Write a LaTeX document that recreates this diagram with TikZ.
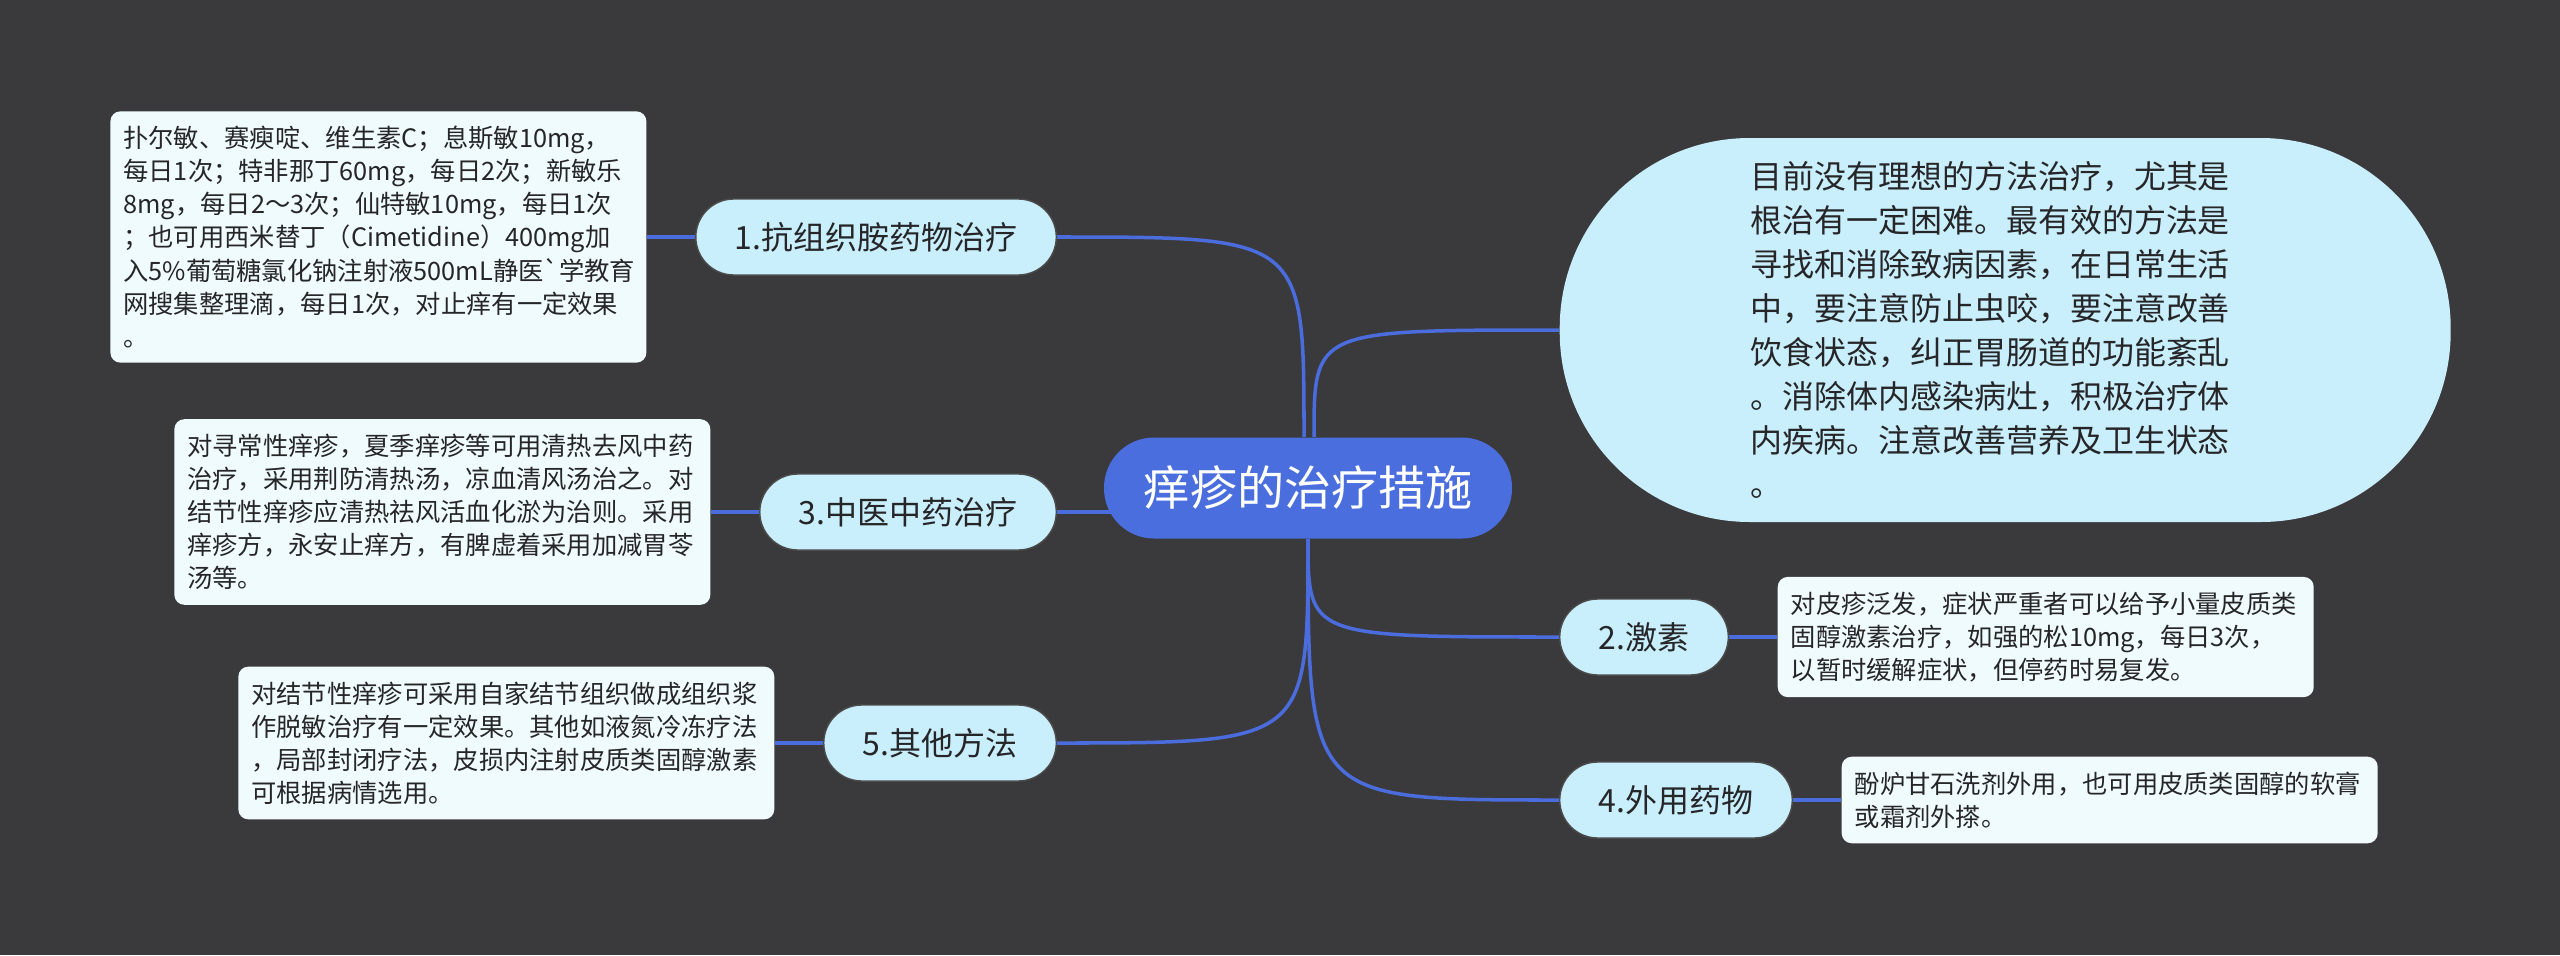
\documentclass[tikz,border=0pt]{standalone}
\usepackage{fontspec}
\setmainfont{Noto Sans CJK SC}
\usetikzlibrary{positioning}
\definecolor{bgcol}{RGB}{58,57,59}
\definecolor{linkcol}{RGB}{74,108,220}
\definecolor{rootcol}{RGB}{74,110,222}
\definecolor{branchcol}{RGB}{201,238,252}
\definecolor{leafcol}{RGB}{240,251,253}
\definecolor{inkcol}{RGB}{38,38,40}
\pgfdeclarelayer{links}
\pgfsetlayers{links,main}
\tikzset{
  root/.style={fill=rootcol, text=white, rounded corners=0.5cm, minimum width=4.08cm,
    minimum height=1.01cm, font=\fontsize{13.4pt}{15pt}\selectfont},
  branch/.style={fill=branchcol, draw=black!70, line width=0.4pt, text=inkcol,
    rounded corners=0.38cm, minimum height=0.76cm, inner xsep=0.39cm,
    font=\fontsize{9.1pt}{11pt}\selectfont},
  leaf/.style={fill=leafcol, text=inkcol, rounded corners=0.1cm, text width=5.1cm,
    align=left, inner xsep=0.13cm, inner ysep=0.15cm,
    font=\fontsize{7.2pt}{9.4pt}\selectfont},
  link/.style={draw=linkcol, line width=1pt},
}
\begin{document}
\begin{tikzpicture}
  \node[root] (ctr) at (13.08,-4.88) {痒疹的治疗措施};

  \node[branch, anchor=east] (b1) at (10.57,-2.37) {1.抗组织胺药物治疗};
  \node[branch, anchor=east] (b3) at (10.57,-5.12) {3.中医中药治疗};
  \node[branch, anchor=east] (b5) at (10.57,-7.43) {5.其他方法};
  \node[branch, anchor=west] (b2) at (15.59,-6.37) {2.激素};
  \node[branch, anchor=west] (b4) at (15.59,-8.00) {4.外用药物};

  \node[fill=branchcol, text=inkcol, rounded corners=1.9cm, anchor=west,
    minimum width=8.91cm, minimum height=3.84cm, text width=5.1cm, align=left,
    font=\fontsize{9.1pt}{12.5pt}\selectfont] (summary) at (15.59,-3.30)
    {目前没有理想的方法治疗，尤其是\\根治有一定困难。最有效的方法是\\寻找和消除致病因素，在日常生活\\中，要注意防止虫咬，要注意改善\\饮食状态，纠正胃肠道的功能紊乱\\。消除体内感染病灶，积极治疗体\\内疾病。注意改善营养及卫生状态\\。};

  \node[leaf, left=0.48cm of b1] (l1)
    {扑尔敏、赛瘐啶、维生素C；息斯敏10mg，\\每日1次；特非那丁60mg，每日2次；新敏乐\\8mg，每日2～3次；仙特敏10mg，每日1次\\；也可用西米替丁（Cimetidine）400mg加\\入5\%葡萄糖氯化钠注射液500mL静医\textasciigrave 学教育\\网搜集整理滴，每日1次，对止痒有一定效果\\。};
  \node[leaf, left=0.48cm of b3] (l3)
    {对寻常性痒疹，夏季痒疹等可用清热去风中药\\治疗，采用荆防清热汤，凉血清风汤治之。对\\结节性痒疹应清热祛风活血化淤为治则。采用\\痒疹方，永安止痒方，有脾虚着采用加减胃苓\\汤等。};
  \node[leaf, left=0.48cm of b5] (l5)
    {对结节性痒疹可采用自家结节组织做成组织浆\\作脱敏治疗有一定效果。其他如液氮冷冻疗法\\，局部封闭疗法，皮损内注射皮质类固醇激素\\可根据病情选用。};
  \node[leaf, right=0.48cm of b2] (l2)
    {对皮疹泛发，症状严重者可以给予小量皮质类\\固醇激素治疗，如强的松10mg，每日3次，\\以暂时缓解症状，但停药时易复发。};
  \node[leaf, right=0.48cm of b4] (l4)
    {酚炉甘石洗剂外用，也可用皮质类固醇的软膏\\或霜剂外搽。};

  \begin{pgfonlayer}{links}
    \fill[bgcol] (0,0) rectangle (25.6,-9.55);
    \draw[link] ([xshift=-0.04cm]ctr.north) .. controls ([xshift=-0.04cm]ctr.north |- b1.east) .. (b1.east);
    \draw[link] ([xshift=0.06cm]ctr.north) .. controls ([xshift=0.06cm]ctr.north |- summary.west) .. (summary.west);
    \draw[link] (b3.east) -- (b3.east -| ctr.center);
    \draw[link] (ctr.south) .. controls (ctr.south |- b5.east) .. (b5.east);
    \draw[link] (ctr.south) .. controls (ctr.south |- b2.west) .. (b2.west);
    \draw[link] (ctr.south) .. controls (ctr.south |- b4.west) .. (b4.west);
    \draw[link] (b1.west) -- (l1.east);
    \draw[link] (b3.west) -- (l3.east);
    \draw[link] (b5.west) -- (l5.east);
    \draw[link] (b2.east) -- (l2.west);
    \draw[link] (b4.east) -- (l4.west);
  \end{pgfonlayer}
\end{tikzpicture}
\end{document}
